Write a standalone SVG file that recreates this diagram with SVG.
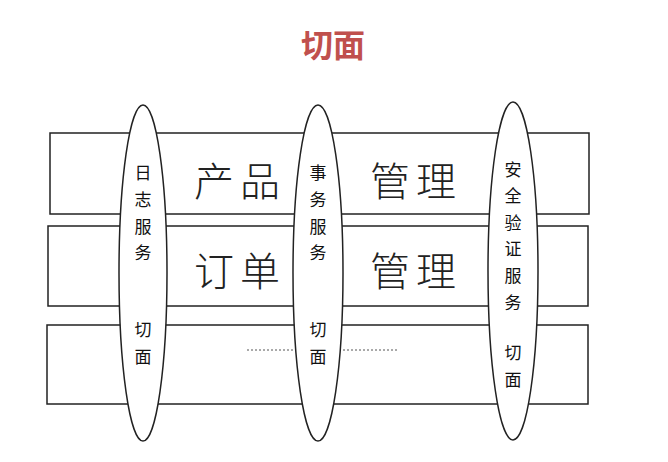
<svg xmlns="http://www.w3.org/2000/svg" width="668" height="462" viewBox="0 0 668 462">
<style>
.b{fill:#fff;stroke:#222;stroke-width:1.5}
.e{fill:#fff;stroke:#222;stroke-width:1.5}
.s{font-family:"Liberation Sans","Noto Sans CJK SC",sans-serif;font-size:17px;fill:#111;text-anchor:middle}
.big{font-family:"Liberation Sans","Noto Sans CJK SC",sans-serif;font-size:40px;fill:#222;text-anchor:middle;letter-spacing:6px;font-weight:300}
</style>
<rect width="668" height="462" fill="#fff"/>
<text x="333" y="57" text-anchor="middle" font-family="Liberation Sans,Noto Sans CJK SC,sans-serif" font-size="32" font-weight="bold" fill="#c0504d">切面</text>
<g id="layers">
<rect class="b" x="50" y="133" width="539" height="81"/>
<rect class="b" x="48" y="226" width="540" height="80"/>
<rect class="b" x="47" y="325" width="541" height="79"/>
</g>
<g id="texts">
<text class="big" x="240" y="196">产品</text>
<text class="big" x="416" y="196">管理</text>
<text class="big" x="240" y="286">订单</text>
<text class="big" x="416" y="286">管理</text>
<line x1="247" y1="350" x2="397" y2="350" stroke="#555" stroke-width="1" stroke-dasharray="2,2"/>
</g>
<g id="log"><ellipse class="e" cx="143" cy="273" rx="24" ry="168"/>
<text class="s" x="143"><tspan x="143" y="179">日</tspan><tspan x="143" y="206">志</tspan><tspan x="143" y="233">服</tspan><tspan x="143" y="259">务</tspan><tspan x="143" y="336">切</tspan><tspan x="143" y="363">面</tspan></text></g>
<g id="tx"><ellipse class="e" cx="318" cy="273" rx="25" ry="168"/>
<text class="s"><tspan x="318" y="179">事</tspan><tspan x="318" y="206">务</tspan><tspan x="318" y="233">服</tspan><tspan x="318" y="259">务</tspan><tspan x="318" y="336">切</tspan><tspan x="318" y="363">面</tspan></text></g>
<g id="sec"><ellipse class="e" cx="513" cy="271" rx="25" ry="169"/>
<text class="s"><tspan x="513" y="176">安</tspan><tspan x="513" y="202">全</tspan><tspan x="513" y="229">验</tspan><tspan x="513" y="255">证</tspan><tspan x="513" y="282">服</tspan><tspan x="513" y="309">务</tspan><tspan x="513" y="359">切</tspan><tspan x="513" y="386">面</tspan></text></g>
</svg>
